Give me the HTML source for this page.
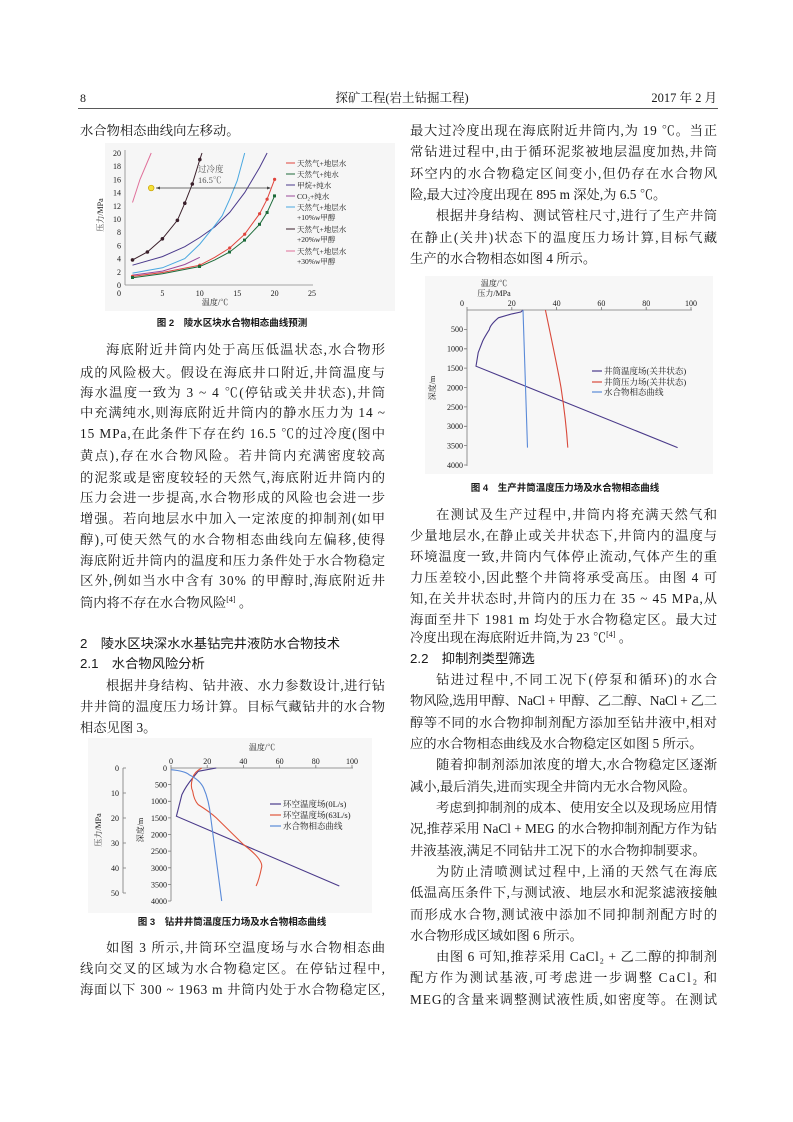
<!DOCTYPE html>
<html><head><meta charset="utf-8"><style>
html,body{margin:0;padding:0;background:#fff}
svg{display:block}
text{font-family:"Liberation Serif","Noto Serif CJK SC","Noto Sans CJK SC",serif;fill:#1a1a1a}
.t{font-size:13.3px}
.s{font-size:8px;fill:#555;font-family:"Liberation Serif","Noto Serif CJK SC",serif}
.c{font-size:9.5px;font-weight:bold;font-family:"Liberation Sans","Noto Sans CJK SC",sans-serif}
.h{font-size:13.3px;font-family:"Liberation Sans","Noto Sans CJK SC",sans-serif}
</style></head><body>
<svg width="793" height="1122" viewBox="0 0 793 1122" xmlns="http://www.w3.org/2000/svg">
<rect width="793" height="1122" fill="#fff"/>
<!-- header -->
<text class="t" x="80" y="102" style="font-size:12px">8</text>
<text class="t" x="402" y="102" text-anchor="middle" style="font-size:12.5px">探矿工程(岩土钻掘工程)</text>
<text class="t" x="717" y="102" text-anchor="end" style="font-size:12.5px">2017 年 2 月</text>
<line x1="78" y1="108.5" x2="718" y2="108.5" stroke="#222" stroke-width="0.8"/>

<!-- LEFT COLUMN -->
<g class="t">
<text x="80" y="135">水合物相态曲线向左移动。</text>
<text x="106" y="354" textLength="279" lengthAdjust="spacing">海底附近井筒内处于高压低温状态,水合物形</text>
<text x="80" y="377" textLength="305" lengthAdjust="spacing">成的风险极大。假设在海底井口附近,井筒温度与</text>
<text x="80" y="397" textLength="305" lengthAdjust="spacing">海水温度一致为 3 ~ 4 ℃(停钻或关井状态),井筒</text>
<text x="80" y="417" textLength="305" lengthAdjust="spacing">中充满纯水,则海底附近井筒内的静水压力为 14 ~</text>
<text x="80" y="438" textLength="305" lengthAdjust="spacing">15 MPa,在此条件下存在约 16.5 ℃的过冷度(图中</text>
<text x="80" y="460" textLength="305" lengthAdjust="spacing">黄点),存在水合物风险。若井筒内充满密度较高</text>
<text x="80" y="482" textLength="305" lengthAdjust="spacing">的泥浆或是密度较轻的天然气,海底附近井筒内的</text>
<text x="80" y="502" textLength="305" lengthAdjust="spacing">压力会进一步提高,水合物形成的风险也会进一步</text>
<text x="80" y="523" textLength="305" lengthAdjust="spacing">增强。若向地层水中加入一定浓度的抑制剂(如甲</text>
<text x="80" y="544" textLength="305" lengthAdjust="spacing">醇),可使天然气的水合物相态曲线向左偏移,使得</text>
<text x="80" y="565" textLength="305" lengthAdjust="spacing">海底附近井筒内的温度和压力条件处于水合物稳定</text>
<text x="80" y="585" textLength="305" lengthAdjust="spacing">区外,例如当水中含有 30% 的甲醇时,海底附近井</text>
<text x="80" y="607">筒内将不存在水合物风险<tspan dy="-5" style="font-size:8px">[4]</tspan><tspan dy="5"> 。</tspan></text>
<text class="h" x="80" y="648">2　陵水区块深水水基钻完井液防水合物技术</text>
<text class="h" x="80" y="668">2.1　水合物风险分析</text>
<text x="106" y="690" textLength="279" lengthAdjust="spacing">根据井身结构、钻井液、水力参数设计,进行钻</text>
<text x="80" y="711" textLength="305" lengthAdjust="spacing">井井筒的温度压力场计算。目标气藏钻井的水合物</text>
<text x="80" y="732">相态见图 3。</text>
<text x="106" y="952" textLength="279" lengthAdjust="spacing">如图 3 所示,井筒环空温度场与水合物相态曲</text>
<text x="80" y="973" textLength="305" lengthAdjust="spacing">线向交叉的区域为水合物稳定区。在停钻过程中,</text>
<text x="80" y="994" textLength="305" lengthAdjust="spacing">海面以下 300 ~ 1963 m 井筒内处于水合物稳定区,</text>
</g>
<text class="c" x="232" y="326" text-anchor="middle">图 2　陵水区块水合物相态曲线预测</text>
<text class="c" x="232" y="925" text-anchor="middle">图 3　钻井井筒温度压力场及水合物相态曲线</text>

<!-- RIGHT COLUMN -->
<g class="t">
<text x="410" y="135" textLength="307" lengthAdjust="spacing">最大过冷度出现在海底附近井筒内,为 19 ℃。当正</text>
<text x="410" y="156" textLength="307" lengthAdjust="spacing">常钻进过程中,由于循环泥浆被地层温度加热,井筒</text>
<text x="410" y="178" textLength="307" lengthAdjust="spacing">环空内的水合物稳定区间变小,但仍存在水合物风</text>
<text x="410" y="199">险,最大过冷度出现在 895 m 深处,为 6.5 ℃。</text>
<text x="436" y="220" textLength="281" lengthAdjust="spacing">根据井身结构、测试管柱尺寸,进行了生产井筒</text>
<text x="410" y="242" textLength="307" lengthAdjust="spacing">在静止(关井)状态下的温度压力场计算,目标气藏</text>
<text x="410" y="263">生产的水合物相态如图 4 所示。</text>
<text x="436" y="519" textLength="281" lengthAdjust="spacing">在测试及生产过程中,井筒内将充满天然气和</text>
<text x="410" y="540" textLength="307" lengthAdjust="spacing">少量地层水,在静止或关井状态下,井筒内的温度与</text>
<text x="410" y="561" textLength="307" lengthAdjust="spacing">环境温度一致,井筒内气体停止流动,气体产生的重</text>
<text x="410" y="582" textLength="307" lengthAdjust="spacing">力压差较小,因此整个井筒将承受高压。由图 4 可</text>
<text x="410" y="603" textLength="307" lengthAdjust="spacing">知,在关井状态时,井筒内的压力在 35 ~ 45 MPa,从</text>
<text x="410" y="624" textLength="307" lengthAdjust="spacing">海面至井下 1981 m 均处于水合物稳定区。最大过</text>
<text x="410" y="642">冷度出现在海底附近井筒,为 23 ℃<tspan dy="-5" style="font-size:8px">[4]</tspan><tspan dy="5"> 。</tspan></text>
<text class="h" x="410" y="663">2.2　抑制剂类型筛选</text>
<text x="436" y="684" textLength="281" lengthAdjust="spacing">钻进过程中,不同工况下(停泵和循环)的水合</text>
<text x="410" y="705" textLength="307" lengthAdjust="spacing">物风险,选用甲醇、NaCl + 甲醇、乙二醇、NaCl + 乙二</text>
<text x="410" y="727" textLength="307" lengthAdjust="spacing">醇等不同的水合物抑制剂配方添加至钻井液中,相对</text>
<text x="410" y="748">应的水合物相态曲线及水合物稳定区如图 5 所示。</text>
<text x="436" y="769" textLength="281" lengthAdjust="spacing">随着抑制剂添加浓度的增大,水合物稳定区逐渐</text>
<text x="410" y="791">减小,最后消失,进而实现全井筒内无水合物风险。</text>
<text x="436" y="812" textLength="281" lengthAdjust="spacing">考虑到抑制剂的成本、使用安全以及现场应用情</text>
<text x="410" y="833" textLength="307" lengthAdjust="spacing">况,推荐采用 NaCl + MEG 的水合物抑制剂配方作为钻</text>
<text x="410" y="855">井液基液,满足不同钻井工况下的水合物抑制要求。</text>
<text x="436" y="876" textLength="281" lengthAdjust="spacing">为防止清喷测试过程中,上涌的天然气在海底</text>
<text x="410" y="897" textLength="307" lengthAdjust="spacing">低温高压条件下,与测试液、地层水和泥浆滤液接触</text>
<text x="410" y="919" textLength="307" lengthAdjust="spacing">而形成水合物,测试液中添加不同抑制剂配方时的</text>
<text x="410" y="940">水合物形成区域如图 6 所示。</text>
<text x="436" y="961" textLength="281" lengthAdjust="spacing">由图 6 可知,推荐采用 CaCl₂ + 乙二醇的抑制剂</text>
<text x="410" y="982" textLength="307" lengthAdjust="spacing">配方作为测试基液,可考虑进一步调整 CaCl₂ 和</text>
<text x="410" y="1004" textLength="307" lengthAdjust="spacing">MEG的含量来调整测试液性质,如密度等。在测试</text>
</g>
<text class="c" x="565" y="491" text-anchor="middle">图 4　生产井筒温度压力场及水合物相态曲线</text>

<!-- FIG 2 -->
<rect x="105" y="143" width="290" height="168" fill="#f6f6f6"/>
<g stroke="#888" stroke-width="0.8" fill="none">
<line x1="125" y1="150" x2="125" y2="285"/>
<line x1="125" y1="285" x2="313" y2="285"/>
</g>
<g class="s" text-anchor="end">
<text x="121" y="288">0</text><text x="121" y="274.8">2</text><text x="121" y="261.6">4</text><text x="121" y="248.4">6</text><text x="121" y="235.2">8</text><text x="121" y="222">10</text><text x="121" y="208.8">12</text><text x="121" y="195.6">14</text><text x="121" y="182.4">16</text><text x="121" y="169.2">18</text><text x="121" y="156">20</text>
</g>
<g class="s" text-anchor="middle">
<text x="119" y="296">0</text><text x="162.4" y="296">5</text><text x="199.8" y="296">10</text><text x="237.2" y="296">15</text><text x="274.6" y="296">20</text><text x="312" y="296">25</text>
<text x="215" y="305">温度/℃</text>
<text transform="translate(103,215) rotate(-90)">压力/MPa</text>
</g>
<g fill="none" stroke-width="1">
<polyline stroke="#e0443c" points="132.5,276.4 162.4,272.5 199.8,265.2 214.8,257.3 229.7,248 244.7,234.2 259.6,213.7 267.1,199.2 274.6,179.4"/>
<polyline stroke="#1d6b3a" points="132.5,277.7 162.4,273.8 199.8,266.5 214.8,259.9 229.7,252 244.7,240.1 259.6,224.3 267.1,212.4 274.6,195.9"/>
<polyline stroke="#4b3a8c" points="132.5,265.2 162.4,256.6 184.8,246.7 199.8,237.5 214.8,226.9 229.7,212.4 244.7,192.6 259.6,167.5 267.1,153"/>
<polyline stroke="#9b4a9b" points="132.5,275.1 162.4,271.1 184.8,264.5 199.8,257.3"/>
<polyline stroke="#4aa8e0" points="132.5,273.1 162.4,267.8 184.8,258.6 199.8,244.1 214.8,225.6 222.2,215.7 229.7,199.2 237.2,180.7 244.7,153"/>
<polyline stroke="#3a1f2a" points="132.5,259.9 147.4,252 162.4,238.8 177.4,220.3 184.8,203.2 192.3,184 199.8,159.6 202,153"/>
<polyline stroke="#e0709a" points="132.5,202.5 140,179.4 151.2,153"/>
</g>
<g>
<g fill="#e0443c"><circle cx="132.5" cy="276.4" r="1.6"/><circle cx="199.8" cy="265.2" r="1.6"/><circle cx="229.7" cy="248" r="1.6"/><circle cx="244.7" cy="234.2" r="1.6"/><circle cx="259.6" cy="213.7" r="1.6"/><circle cx="267.1" cy="199.2" r="1.6"/><circle cx="274.6" cy="179.4" r="1.6"/></g>
<g fill="#1d6b3a"><rect x="131" y="276" width="3" height="3"/><rect x="198" y="265" width="3" height="3"/><rect x="228" y="250.5" width="3" height="3"/><rect x="243" y="238.6" width="3" height="3"/><rect x="258" y="222.8" width="3" height="3"/><rect x="265.6" y="211" width="3" height="3"/><rect x="273" y="194.4" width="3" height="3"/></g>
<g fill="#3a1f2a"><circle cx="132.5" cy="259.9" r="1.8"/><circle cx="147.4" cy="252" r="1.8"/><circle cx="162.4" cy="238.8" r="1.8"/><circle cx="177.4" cy="220.3" r="1.8"/><circle cx="184.8" cy="203.2" r="1.8"/><circle cx="192.3" cy="184" r="1.8"/><circle cx="199.8" cy="159.6" r="1.8"/></g>
</g>
<circle cx="151.2" cy="188" r="2.8" fill="#f5e23a" stroke="#c9a000" stroke-width="0.7"/>
<line x1="156" y1="188" x2="270" y2="188" stroke="#444" stroke-width="0.7"/>
<path d="M156,188 l4,-1.5 v3z M271,188 l-4,-1.5 v3z" fill="#444"/>
<text class="s" x="198" y="172" style="font-size:8.5px">过冷度</text>
<text class="s" x="198" y="183" style="font-size:8.5px">16.5℃</text>
<g class="s" style="font-size:7.5px">
<line x1="286" y1="163" x2="295" y2="163" stroke="#e0443c"/><text x="297" y="166">天然气+地层水</text>
<line x1="286" y1="174" x2="295" y2="174" stroke="#1d6b3a"/><text x="297" y="177">天然气+纯水</text>
<line x1="286" y1="185" x2="295" y2="185" stroke="#4b3a8c"/><text x="297" y="188">甲烷+纯水</text>
<line x1="286" y1="196" x2="295" y2="196" stroke="#9b4a9b"/><text x="297" y="199">CO₂+纯水</text>
<line x1="286" y1="207" x2="295" y2="207" stroke="#4aa8e0"/><text x="297" y="210">天然气+地层水</text><text x="297" y="220">+10%w甲醇</text>
<line x1="286" y1="229" x2="295" y2="229" stroke="#3a1f2a"/><text x="297" y="232">天然气+地层水</text><text x="297" y="242">+20%w甲醇</text>
<line x1="286" y1="251" x2="295" y2="251" stroke="#e0709a"/><text x="297" y="254">天然气+地层水</text><text x="297" y="264">+30%w甲醇</text>
</g>

<!-- FIG 4 -->
<rect x="425" y="276" width="288" height="198" fill="#f7f7f7"/>
<g stroke="#777" stroke-width="0.8" fill="none">
<line x1="467" y1="310" x2="692" y2="310"/>
<line x1="467" y1="310" x2="467" y2="466"/>
<path d="M467,310v-3M511.8,310v-3M556.6,310v-3M601.4,310v-3M646.2,310v-3M691,310v-3M467,329.4h-3M467,348.8h-3M467,368.1h-3M467,387.5h-3M467,406.9h-3M467,426.3h-3M467,445.6h-3M467,465h-3"/>
</g>
<g class="s" text-anchor="middle">
<text x="494" y="286">温度/℃</text><text x="494" y="296">压力/MPa</text>
<text x="462" y="306">0</text><text x="511.8" y="306">20</text><text x="556.6" y="306">40</text><text x="601.4" y="306">60</text><text x="646.2" y="306">80</text><text x="691" y="306">100</text>
<text transform="translate(435,388) rotate(-90)">深度/m</text>
</g>
<g class="s" text-anchor="end">
<text x="463" y="332">500</text><text x="463" y="351.5">1000</text><text x="463" y="371">1500</text><text x="463" y="390.5">2000</text><text x="463" y="410">2500</text><text x="463" y="429">3000</text><text x="463" y="448.5">3500</text><text x="463" y="468">4000</text>
</g>
<g fill="none" stroke-width="1.1">
<path stroke="#4a3a8a" d="M523,310 L520.8,312 L511.8,313.9 L498.4,317.8 Q490,325 489.4,329.4 Q484,338 482.7,341 L478.2,352.6 L476,366.2 L677.6,447.6"/>
<path stroke="#d94a3c" d="M545.4,310 Q558,370 561,387.5 Q566,420 567.8,447.6"/>
<path stroke="#5a8ad8" d="M523,310 L527.5,447.6"/>
</g>
<g class="s" style="font-size:8.5px">
<line x1="592" y1="371" x2="602" y2="371" stroke="#4a3a8a" stroke-width="1.2"/><text x="604" y="374">井筒温度场(关井状态)</text>
<line x1="592" y1="382" x2="602" y2="382" stroke="#d94a3c" stroke-width="1.2"/><text x="604" y="385">井筒压力场(关井状态)</text>
<line x1="592" y1="392" x2="602" y2="392" stroke="#5a8ad8" stroke-width="1.2"/><text x="604" y="395">水合物相态曲线</text>
</g>

<!-- FIG 3 -->
<rect x="88" y="738" width="284" height="175" fill="#f7f7f7"/>
<g stroke="#777" stroke-width="0.8" fill="none">
<line x1="123" y1="768" x2="123" y2="893"/>
<path d="M123,768h3M123,793h3M123,818h3M123,843h3M123,868h3M123,893h3"/>
<line x1="171" y1="768" x2="353" y2="768"/>
<line x1="171" y1="768" x2="171" y2="901"/>
<path d="M171,768v-3M207.2,768v-3M243.4,768v-3M279.6,768v-3M315.8,768v-3M352,768v-3M171,784.6h-3M171,801.3h-3M171,817.9h-3M171,834.5h-3M171,851.1h-3M171,867.8h-3M171,884.4h-3M171,901h-3"/>
</g>
<g class="s" text-anchor="middle">
<text x="262" y="750">温度/℃</text>
<text x="171" y="764">0</text><text x="207.2" y="764">20</text><text x="243.4" y="764">40</text><text x="279.6" y="764">60</text><text x="315.8" y="764">80</text><text x="352" y="764">100</text>
<text transform="translate(101,830) rotate(-90)">压力/MPa</text>
<text transform="translate(143,830) rotate(-90)">深度/m</text>
</g>
<g class="s" text-anchor="end">
<text x="119" y="771">0</text><text x="119" y="796">10</text><text x="119" y="821">20</text><text x="119" y="846">30</text><text x="119" y="871">40</text><text x="119" y="896">50</text>
<text x="167" y="771">0</text><text x="167" y="787.5">500</text><text x="167" y="804">1000</text><text x="167" y="821">1500</text><text x="167" y="837.5">2000</text><text x="167" y="854">2500</text><text x="167" y="871">3000</text><text x="167" y="887.5">3500</text><text x="167" y="904">4000</text>
</g>
<g fill="none" stroke-width="1.1">
<path stroke="#4a3a8a" d="M216.3,768 L198.2,771.3 L192.7,778 Q186,786 181.9,794.6 L176.4,816.2 L339.3,886"/>
<path stroke="#e0553c" d="M201.8,768 Q194,772 192.7,778 Q190,786 192.7,791.3 Q194,800 198.2,804.6 Q210,812 216.3,817.9 L243.4,844.5 Q264,860 261.5,867.8 Q259,880 256.1,886"/>
<path stroke="#5a8ad8" d="M171,769.7 Q185,771 189.1,774.7 Q200,780 203.6,788 Q209,800 210.8,817.9 L221.7,901"/>
</g>
<g class="s" style="font-size:8.5px">
<line x1="270" y1="804" x2="281" y2="804" stroke="#4a3a8a" stroke-width="1.2"/><text x="283" y="807">环空温度场(0L/s)</text>
<line x1="270" y1="815" x2="281" y2="815" stroke="#e0553c" stroke-width="1.2"/><text x="283" y="818">环空温度场(63L/s)</text>
<line x1="270" y1="826" x2="281" y2="826" stroke="#5a8ad8" stroke-width="1.2"/><text x="283" y="829">水合物相态曲线</text>
</g>
</svg>
</body></html>
